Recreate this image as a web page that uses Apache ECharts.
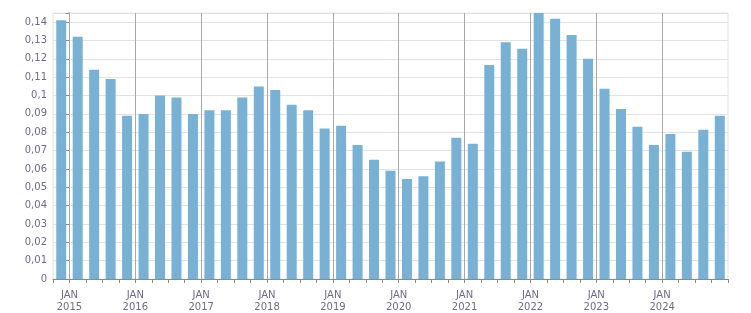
<!DOCTYPE html>
<html>
<head>
<meta charset="utf-8">
<script src="https://cdn.jsdelivr.net/npm/echarts@6/dist/echarts.min.js"></script>
<style>html,body{margin:0;padding:0;background:#fff}#c{width:751px;height:313px}</style>
</head>
<body>
<div id="c"></div>
<script>
// Quarter categories (year, quarter)
var quarters = [
  '2014-Q4',
  '2015-Q1','2015-Q2','2015-Q3','2015-Q4',
  '2016-Q1','2016-Q2','2016-Q3','2016-Q4',
  '2017-Q1','2017-Q2','2017-Q3','2017-Q4',
  '2018-Q1','2018-Q2','2018-Q3','2018-Q4',
  '2019-Q1','2019-Q2','2019-Q3','2019-Q4',
  '2020-Q1','2020-Q2','2020-Q3','2020-Q4',
  '2021-Q1','2021-Q2','2021-Q3','2021-Q4',
  '2022-Q1','2022-Q2','2022-Q3','2022-Q4',
  '2023-Q1','2023-Q2','2023-Q3','2023-Q4',
  '2024-Q1','2024-Q2','2024-Q3','2024-Q4'
];
var values = [
  0.141,
  0.132, 0.114, 0.109, 0.089,
  0.090, 0.100, 0.099, 0.090,
  0.092, 0.092, 0.099, 0.105,
  0.103, 0.095, 0.092, 0.082,
  0.0835, 0.073, 0.065, 0.059,
  0.0545, 0.056, 0.064, 0.077,
  0.0737, 0.1167, 0.129, 0.1255,
  0.145, 0.1418, 0.133, 0.120,
  0.1037, 0.0927, 0.083, 0.073,
  0.079, 0.0693, 0.0813, 0.089
];
var yearLabels = ['2015','2016','2017','2018','2019','2020','2021','2022','2023','2024'];
var baseYear = 2015;

function qIndex(s) {
  var p = s.split('-Q');
  return (parseInt(p[0], 10) - baseYear) * 4 + (parseInt(p[1], 10) - 1) + 0.5;
}
var seriesData = quarters.map(function (q, i) { return [qIndex(q), values[i]]; });
var yearLines = yearLabels.map(function (y) { return { xAxis: (parseInt(y, 10) - baseYear) * 4 }; });

var font = 'DejaVu Sans';
var chart = echarts.init(document.getElementById('c'), null, { renderer: 'canvas' });
chart.setOption({
  animation: false,
  grid: { left: 53, right: 23, top: 13, bottom: 33, show: true, borderColor: '#e2e2e2', borderWidth: 1 },
  xAxis: {
    type: 'value',
    min: -1, max: 40, interval: 1,
    axisLine: { show: true, lineStyle: { color: '#8a8a8a', width: 1 } },
    axisTick: { show: true, length: 4, lineStyle: { color: '#8a8a8a' } },
    splitLine: { show: false },
    axisLabel: {
      margin: 10, color: '#6f6a85', fontFamily: font, fontSize: 10, lineHeight: 12,
      showMinLabel: true, showMaxLabel: true,
      formatter: function (v) {
        var r = Math.round(v);
        if (r >= 0 && r % 4 === 0) {
          var lab = yearLabels[r / 4];
          return lab ? 'JAN\n' + lab : '';
        }
        return '';
      }
    }
  },
  yAxis: {
    type: 'value',
    min: 0, max: 0.145, interval: 0.01,
    axisLine: { show: true, lineStyle: { color: '#8a8a8a', width: 1 } },
    axisTick: { show: true, length: 4, lineStyle: { color: '#8a8a8a' } },
    splitLine: { show: true, lineStyle: { color: '#e2e2e2', width: 1 } },
    axisLabel: {
      margin: 6, color: '#6f6a85', fontFamily: font, fontSize: 10,
      formatter: function (v) {
        var k = Math.round(v * 1000);
        if (k % 10 !== 0) return '';
        var s = (k / 1000).toString();
        return s.replace('.', ',');
      }
    }
  },
  series: [{
    type: 'bar',
    data: seriesData,
    barWidth: 10,
    itemStyle: { color: '#78b1d3' },
    markLine: {
      silent: true,
      symbol: 'none',
      label: { show: false },
      lineStyle: { color: '#a8a8a8', type: 'solid', width: 1 },
      data: yearLines
    }
  }]
});
</script>
</body>
</html>
